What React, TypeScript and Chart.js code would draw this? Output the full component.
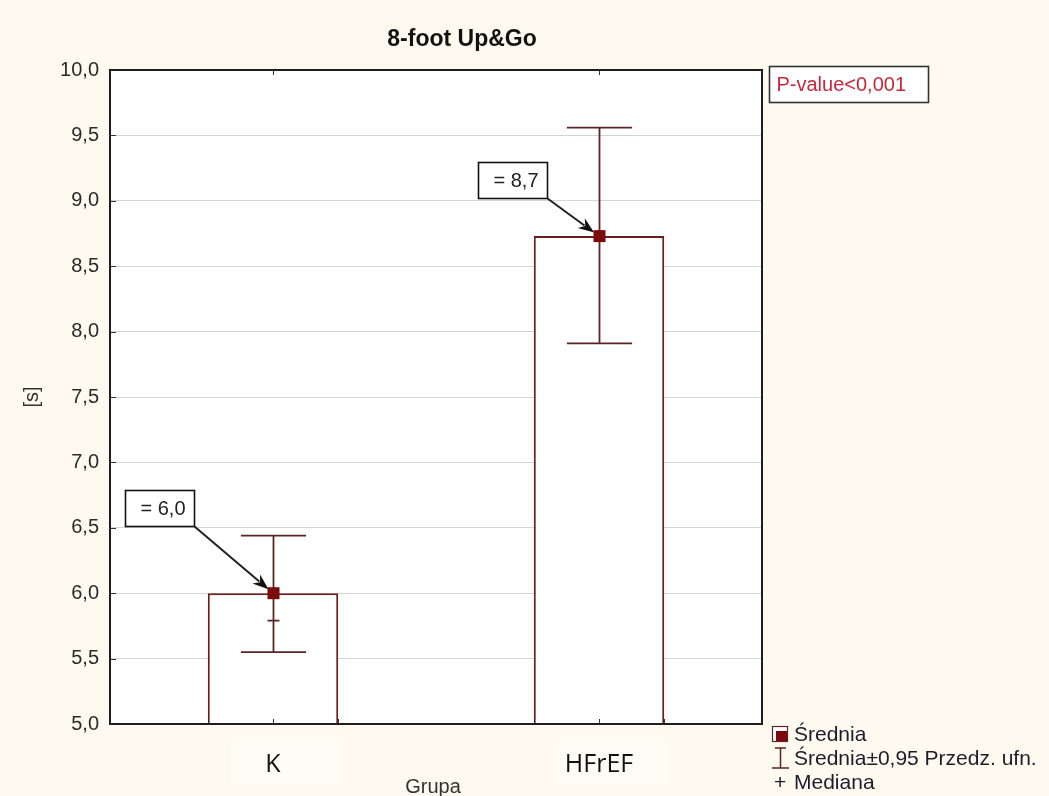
import { useEffect, useRef } from 'react';
import { Chart, registerables } from 'chart.js';

Chart.register(...registerables);

// Groups and their summary statistics (seconds)
const categories = ['K', 'HFrEF'];
const meanValues = [6.0, 8.73];
const ciLow = [5.55, 7.91];
const ciHigh = [6.44, 9.56];
const medianValues = [5.79, 8.72];

// Value axis
const yMin = 5;
const yMax = 10;
const yStep = 0.5;

// Texts
const chartTitle = '8-foot Up&Go';
const pValueText = 'P-value<0,001';
const xTitle = 'Grupa';
const yTitle = '[s]';
const legendLabels = ['Średnia', 'Średnia±0,95 Przedz. ufn.', 'Mediana'];

// Offsets of the callout boxes (bottom-right corner) relative to each mean marker
const calloutOffsets = [
  [-79, -67],
  [-52, -38],
];

const CANVAS_W = 1049;
const CANVAS_H = 796;
const BG = '#fefaf0';
const BAR_EDGE = '#6a1f1f';
const WHISKER = '#5c2424';
const MEAN_FILL = '#7d0a0a';
const SANS = '"Liberation Sans", Arial, sans-serif';

const fmt = (v: number) => v.toFixed(1).replace('.', ',');

const decorPlugin = {
  id: 'statDecor',
  beforeDraw(chart: any) {
    const { ctx, chartArea: a, scales } = chart;
    ctx.save();
    ctx.fillStyle = BG;
    ctx.fillRect(0, 0, chart.width, chart.height);
    // faint light patches behind the group labels
    ctx.fillStyle = '#fffcf6';
    categories.forEach((_, i) => {
      const x = scales.x.getPixelForValue(i);
      ctx.fillRect(x - 42, a.bottom + 14, 110, 46);
    });
    ctx.fillStyle = '#ffffff';
    ctx.fillRect(a.left, a.top, a.right - a.left, a.bottom - a.top);
    ctx.restore();
  },
  afterDatasetsDraw(chart: any) {
    const { ctx, chartArea: a, scales } = chart;
    const y = scales.y;
    const bars = chart.getDatasetMeta(0).data;
    ctx.save();

    // whiskers, caps, medians, mean markers
    bars.forEach((bar: any, i: number) => {
      const cx = Math.round(bar.x) + 0.5;
      const capHalf = bar.width * 0.25;
      const yHi = y.getPixelForValue(ciHigh[i]);
      const yLo = y.getPixelForValue(ciLow[i]);
      ctx.strokeStyle = WHISKER;
      ctx.lineWidth = 1.8;
      ctx.beginPath();
      ctx.moveTo(cx, yHi);
      ctx.lineTo(cx, yLo);
      ctx.moveTo(cx - capHalf, yHi);
      ctx.lineTo(cx + capHalf, yHi);
      ctx.moveTo(cx - capHalf, yLo);
      ctx.lineTo(cx + capHalf, yLo);
      const yMed = y.getPixelForValue(medianValues[i]);
      ctx.moveTo(cx - 6, yMed);
      ctx.lineTo(cx + 6, yMed);
      ctx.stroke();

      const yMean = y.getPixelForValue(meanValues[i]);
      ctx.fillStyle = MEAN_FILL;
      ctx.fillRect(cx - 6, yMean - 6, 12, 12);
    });

    // small inward ticks on the frame
    ctx.strokeStyle = '#333';
    ctx.lineWidth = 1;
    for (let v = yMin + yStep; v < yMax; v += yStep) {
      const py = Math.round(y.getPixelForValue(v)) + 0.5;
      ctx.beginPath();
      ctx.moveTo(a.left, py);
      ctx.lineTo(a.left + 6, py);
      ctx.stroke();
    }
    bars.forEach((bar: any) => {
      const xs = [bar.x - bar.width / 2, bar.x, bar.x + bar.width / 2];
      xs.forEach((px) => {
        const rx = Math.round(px) + 0.5;
        ctx.beginPath();
        ctx.moveTo(rx, a.bottom);
        ctx.lineTo(rx, a.bottom - 5);
        ctx.stroke();
      });
      const tx = Math.round(bar.x) + 0.5;
      ctx.beginPath();
      ctx.moveTo(tx, a.top);
      ctx.lineTo(tx, a.top + 5);
      ctx.stroke();
    });

    // plot frame
    ctx.strokeStyle = '#1e1e1e';
    ctx.lineWidth = 2;
    ctx.strokeRect(a.left, a.top, a.right - a.left, a.bottom - a.top);

    // callouts with arrows
    bars.forEach((bar: any, i: number) => {
      const mx = bar.x;
      const my = y.getPixelForValue(meanValues[i]);
      const [dx, dy] = calloutOffsets[i];
      const bx2 = Math.round(mx + dx) + 0.5;
      const by2 = Math.round(my + dy) + 0.5;
      const bw = 69;
      const bh = 36;
      ctx.fillStyle = '#ffffff';
      ctx.fillRect(bx2 - bw, by2 - bh, bw, bh);
      ctx.strokeStyle = '#111';
      ctx.lineWidth = 1.6;
      ctx.strokeRect(bx2 - bw, by2 - bh, bw, bh);
      ctx.fillStyle = '#222';
      ctx.font = `20px ${SANS}`;
      ctx.textAlign = 'center';
      ctx.textBaseline = 'middle';
      ctx.fillText('= ' + fmt(meanValues[i]), bx2 - bw / 2 + 3, by2 - bh / 2 + 1);

      // arrow shaft and head
      const ang = Math.atan2(my - by2, mx - bx2);
      const tipX = mx - Math.cos(ang) * 6;
      const tipY = my - Math.sin(ang) * 6;
      const headLen = 16;
      const headHalf = 6;
      const baseX = tipX - Math.cos(ang) * headLen;
      const baseY = tipY - Math.sin(ang) * headLen;
      ctx.strokeStyle = '#222';
      ctx.lineWidth = 2;
      ctx.beginPath();
      ctx.moveTo(bx2, by2);
      ctx.lineTo(baseX + Math.cos(ang) * 4, baseY + Math.sin(ang) * 4);
      ctx.stroke();
      ctx.fillStyle = '#111';
      ctx.beginPath();
      ctx.moveTo(tipX, tipY);
      ctx.lineTo(baseX + Math.sin(ang) * headHalf, baseY - Math.cos(ang) * headHalf);
      ctx.lineTo(baseX + Math.cos(ang) * 5, baseY + Math.sin(ang) * 5);
      ctx.lineTo(baseX - Math.sin(ang) * headHalf, baseY + Math.cos(ang) * headHalf);
      ctx.closePath();
      ctx.fill();
    });

    // title
    ctx.fillStyle = '#111';
    ctx.font = `bold 23px ${SANS}`;
    ctx.textAlign = 'center';
    ctx.textBaseline = 'middle';
    ctx.fillText(chartTitle, 462, 40);

    // axis titles
    ctx.fillStyle = '#333';
    ctx.font = `20px ${SANS}`;
    ctx.fillText(xTitle, (a.left + a.right) / 2 - 3, a.bottom + 63);
    ctx.save();
    ctx.translate(32, (a.top + a.bottom) / 2);
    ctx.rotate(-Math.PI / 2);
    ctx.fillText(yTitle, 0, 0);
    ctx.restore();

    // p-value box
    const px = a.right + 7.5;
    const py = a.top - 3.5;
    ctx.fillStyle = '#ffffff';
    ctx.fillRect(px, py, 159, 36);
    ctx.strokeStyle = '#333';
    ctx.lineWidth = 1.6;
    ctx.strokeRect(px, py, 159, 36);
    ctx.fillStyle = '#c8283a';
    ctx.font = `20px ${SANS}`;
    ctx.textAlign = 'left';
    ctx.fillText(pValueText, px + 7, py + 19);

    // legend
    const lx = a.right + 10;
    const ly = a.bottom + 10;
    const rowH = 24;
    ctx.font = `21px ${SANS}`;
    ctx.textAlign = 'left';
    ctx.textBaseline = 'middle';
    // mean marker
    ctx.fillStyle = '#ffffff';
    ctx.fillRect(lx, ly - 8, 16, 16);
    ctx.strokeStyle = '#5c2626';
    ctx.lineWidth = 1.2;
    ctx.strokeRect(lx + 0.5, ly - 7.5, 15, 15);
    ctx.fillStyle = MEAN_FILL;
    ctx.fillRect(lx + 4, ly - 3, 11, 10);
    ctx.fillStyle = '#1c1c2c';
    ctx.fillText(legendLabels[0], lx + 22, ly + 1);
    // interval marker
    const y2 = ly + rowH;
    ctx.strokeStyle = WHISKER;
    ctx.lineWidth = 1.5;
    ctx.beginPath();
    ctx.moveTo(lx + 8.5, y2 - 10);
    ctx.lineTo(lx + 8.5, y2 + 10);
    ctx.moveTo(lx + 3, y2 - 10);
    ctx.lineTo(lx + 14, y2 - 10);
    ctx.moveTo(lx, y2 + 10);
    ctx.lineTo(lx + 17, y2 + 10);
    ctx.stroke();
    ctx.fillStyle = '#1c1c2c';
    ctx.fillText(legendLabels[1], lx + 22, y2 + 1);
    // median marker
    const y3 = ly + rowH * 2;
    ctx.fillText('+', lx + 2, y3 + 1);
    ctx.fillText(legendLabels[2], lx + 22, y3 + 1);

    ctx.restore();
  },
};

export default function App() {
  const canvasRef = useRef<HTMLCanvasElement | null>(null);

  useEffect(() => {
    document.body.style.margin = '0';
    const canvas = canvasRef.current;
    if (!canvas) return;
    const chart = new Chart(canvas, {
      type: 'bar',
      data: {
        labels: categories,
        datasets: [
          {
            data: meanValues,
            base: yMin,
            backgroundColor: '#ffffff',
            borderColor: BAR_EDGE,
            borderWidth: 2,
            barPercentage: 0.4,
            categoryPercentage: 1,
          } as any,
        ],
      },
      options: {
        responsive: false,
        animation: false,
        devicePixelRatio: 1,
        layout: { padding: { top: 70, right: 287, left: 0, bottom: 0 } },
        plugins: {
          legend: { display: false },
          title: { display: false },
          tooltip: { enabled: false },
        },
        scales: {
          x: {
            type: 'category',
            offset: true,
            grid: { display: false, drawTicks: false },
            border: { display: false },
            ticks: {
              font: { family: '"Open Sans", sans-serif', size: 25 },
              color: '#111',
              padding: 26,
            },
            afterFit: (s: any) => {
              s.height = 72;
            },
          },
          y: {
            min: yMin,
            max: yMax,
            grid: { color: '#d4d4d4', lineWidth: 1, drawTicks: false },
            border: { display: false },
            ticks: {
              stepSize: yStep,
              callback: (v: any) => fmt(Number(v)),
              font: { family: SANS, size: 20 },
              color: '#2a2a2a',
              padding: 11,
            },
            afterFit: (s: any) => {
              s.width = 110;
            },
          },
        },
      },
      plugins: [decorPlugin],
    });
    return () => chart.destroy();
  }, []);

  return (
    <div style={{ width: CANVAS_W, height: CANVAS_H }}>
      <canvas ref={canvasRef} width={CANVAS_W} height={CANVAS_H} />
    </div>
  );
}
